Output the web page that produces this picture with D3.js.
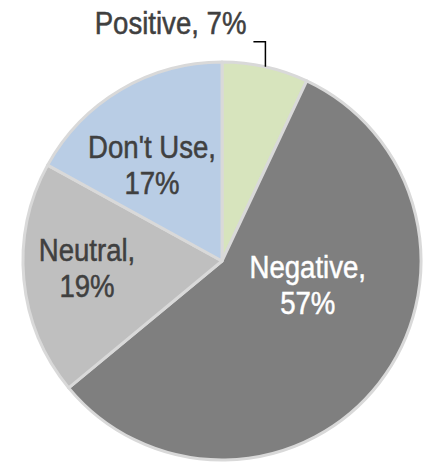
<!DOCTYPE html>
<html>
<head>
<meta charset="utf-8">
<script src="https://cdn.jsdelivr.net/npm/d3@7"></script>
<style>
  html, body { margin: 0; padding: 0; background: #fff; }
  text { font-family: "Liberation Sans", Arial, sans-serif; font-size: 31px; stroke-width: 0.5px; }
</style>
</head>
<body>
<svg id="chart" width="427" height="463"></svg>
<script>
// slices, clockwise from 12 o'clock
var categories = ["Positive", "Negative", "Neutral", "Don't Use"];
var shares = [7, 57, 19, 17];
var colors = ["#d7e4bd", "#7f7f7f", "#bfbfbf", "#b9cde5"];
var labelColors = ["#404040", "#ffffff", "#404040", "#404040"];

var svg = d3.select("#chart");
var cx = 222, cy = 261, radius = 199;
var narrow = 0.89; // fake arial narrow by squeezing liberation sans

var data = categories.map(function(c, i) { return {name: c, value: shares[i], i: i}; });

var pie = d3.pie().sort(null).value(function(d) { return d.value; });
var arcs = pie(data);
var arc = d3.arc().innerRadius(0).outerRadius(radius);

var g = svg.append("g").attr("transform", "translate(" + cx + "," + cy + ")");

g.selectAll("path.slice")
    .data(arcs)
    .enter().append("path")
    .attr("class", "slice")
    .attr("d", arc)
    .attr("fill", function(d) { return colors[d.data.i]; })
    .attr("stroke", "#d9d9d9")
    .attr("stroke-width", 3)
    .attr("stroke-linejoin", "round");

// label placement, roughly where excel's best fit put them (radius fraction, angle shift in deg)
var nudge = {
    "Negative": {r: 0.45, da: -21},
    "Neutral": {r: 0.68, da: 1.5},
    "Don't Use": {r: 0.59, da: -6}
};

function squeezed(x, y) {
    return g.append("g").attr("transform", "translate(" + x + "," + y + ") scale(" + narrow + ",1)");
}

arcs.forEach(function(d) {
    var name = d.data.name;
    var lbl = name + ",";
    var pct = d.data.value + "%";
    var col = labelColors[d.data.i];
    if (nudge[name]) {
        var mid = (d.startAngle + d.endAngle) / 2 + nudge[name].da * Math.PI / 180;
        var rr = radius * nudge[name].r;
        var x = rr * Math.sin(mid), y = -rr * Math.cos(mid);
        var t = squeezed(x, y).append("text")
            .attr("text-anchor", "middle")
            .attr("fill", col)
            .attr("stroke", col);
        t.append("tspan").attr("x", 0).attr("y", -9).text(lbl);
        t.append("tspan").attr("x", 0).attr("y", 27).text(pct);
    } else {
        // outside label with elbow leader
        var mid2 = (d.startAngle + d.endAngle) / 2;
        var px = radius * Math.sin(mid2), py = -radius * Math.cos(mid2);
        var elbowY = py - 25;
        g.append("path")
            .attr("d", d3.line()([[px, py], [px, elbowY], [px - 12, elbowY]]))
            .attr("fill", "none")
            .attr("stroke", "#000")
            .attr("stroke-width", 1.5);
        squeezed(px - 19, elbowY - 8).append("text")
            .attr("text-anchor", "end")
            .attr("fill", col)
            .attr("stroke", col)
            .text(lbl + " " + pct);
    }
});
</script>
</body>
</html>
